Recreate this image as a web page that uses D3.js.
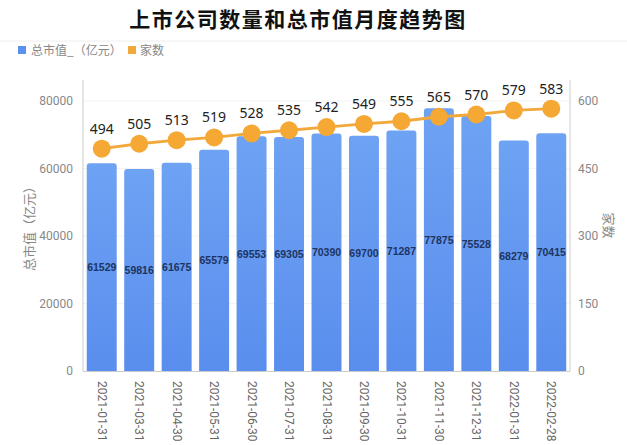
<!DOCTYPE html>
<html><head><meta charset="utf-8">
<script src="https://cdn.jsdelivr.net/npm/d3@7"></script>
<style>
html,body{margin:0;padding:0;background:#fff;}
svg{display:block;font-family:"Noto Sans CJK SC","Noto Sans",sans-serif;}
</style></head>
<body>
<svg id="c" width="627" height="445"></svg>
<script>
const categories = ["2021-01-31","2021-03-31","2021-04-30","2021-05-31","2021-06-30","2021-07-31","2021-08-31","2021-09-30","2021-10-31","2021-11-30","2021-12-31","2022-01-31","2022-02-28"];
const marketCap = [61529,59816,61675,65579,69553,69305,70390,69700,71287,77875,75528,68279,70415];
const companies = [494,505,513,519,528,535,542,549,555,565,570,579,583];
const leftTicks = [0,20000,40000,60000,80000];
const rightTicks = [0,150,300,450,600];
const title = "上市公司数量和总市值月度趋势图";
const legendLabels = ["总市值_（亿元）","家数"];
const leftTitle = "总市值（亿元）";
const rightTitle = "家数";

const svg = d3.select("#c");
const L = 83, R = 570, T = 80, B = 371;

const x = d3.scaleBand().domain(categories).range([L, R]).paddingInner(0.2).paddingOuter(0.1);
const yL = d3.scaleLinear().domain([0, 80000]).range([B, B - 270]);
const yR = d3.scaleLinear().domain([0, 600]).range([B, B - 270]);

// gradient
const defs = svg.append("defs");
const g = defs.append("linearGradient").attr("id","bg").attr("x1",0).attr("y1",0).attr("x2",0).attr("y2",1);
g.append("stop").attr("offset","0%").attr("stop-color","#6ea2f3");
g.append("stop").attr("offset","100%").attr("stop-color","#5a8eee");

// title
svg.append("text").attr("x", 298).attr("y", 27).attr("text-anchor","middle")
  .attr("font-size", 21).attr("font-weight", "bold").attr("fill","#111").attr("letter-spacing", 1.5)
  .text(title);
svg.append("line").attr("x1",0).attr("x2",627).attr("y1",41).attr("y2",41).attr("stroke","#eee");

// legend
const leg = svg.append("g").attr("font-size",12).attr("fill","#888");
leg.append("rect").attr("x",18).attr("y",46).attr("width",8).attr("height",8).attr("fill","#5b8ff0");
leg.append("text").attr("x",31).attr("y",54.5).attr("fill","#888").text(legendLabels[0]);
leg.append("rect").attr("x",128).attr("y",46).attr("width",8).attr("height",8).attr("fill","#f2a93b");
leg.append("text").attr("x",140).attr("y",54.5).attr("fill","#888").text(legendLabels[1]);

// grid
svg.append("g").selectAll("line").data(leftTicks.slice(1)).join("line")
  .attr("x1",L).attr("x2",R).attr("y1",d=>yL(d)).attr("y2",d=>yL(d)).attr("stroke","#f3f3f3");

// axes
const axL = svg.append("g").attr("transform",`translate(${L},0)`)
  .call(d3.axisLeft(yL).tickValues(leftTicks).tickSize(0).tickPadding(10).tickFormat(d3.format("d")));
const axR = svg.append("g").attr("transform",`translate(${R},0)`)
  .call(d3.axisRight(yR).tickValues(rightTicks).tickSize(0).tickPadding(8).tickFormat(d3.format("d")));
[axL, axR].forEach(a=>{
  a.select(".domain").remove();
  a.selectAll("text").attr("fill","#888").attr("font-size",12).attr("font-family","Roboto,'Noto Sans',sans-serif");
});
svg.append("line").attr("x1",L).attr("x2",L).attr("y1",T).attr("y2",B).attr("stroke","#ccc");
svg.append("line").attr("x1",R).attr("x2",R).attr("y1",T).attr("y2",B).attr("stroke","#ccc");

// bars
svg.append("g").selectAll("path").data(marketCap).join("path")
  .attr("fill","url(#bg)")
  .attr("d",(d,i)=>{
    const x0 = x(categories[i]), w = x.bandwidth(), y0 = yL(d), r = 3;
    return `M${x0},${B}V${y0+r}Q${x0},${y0} ${x0+r},${y0}H${x0+w-r}Q${x0+w},${y0} ${x0+w},${y0+r}V${B}Z`;
  });
svg.append("line").attr("x1",L).attr("x2",R).attr("y1",B+0.5).attr("y2",B+0.5).attr("stroke","#ccc");

// bar labels
svg.append("g").selectAll("text").data(marketCap).join("text")
  .attr("x",(d,i)=>x(categories[i]) + x.bandwidth()/2)
  .attr("y",d=>(yL(d)+B)/2 + 4)
  .attr("text-anchor","middle").attr("font-size",10.5).attr("font-weight","bold")
  .attr("fill","#1d3461").attr("font-family","'Liberation Sans',sans-serif")
  .text(d=>d);

// x labels
svg.append("g").selectAll("text").data(categories).join("text")
  .attr("transform",(d)=>`translate(${x(d)+x.bandwidth()/2 - 4},${B+10}) rotate(90)`)
  .attr("font-size",12).attr("fill","#666").attr("font-family","Roboto,'Noto Sans',sans-serif")
  .text(d=>d);

// line
const cx = (d,i)=>x(categories[i]) + x.bandwidth()/2;
svg.append("path").datum(companies)
  .attr("fill","none").attr("stroke","#f2a93b").attr("stroke-width",2.8)
  .attr("d", d3.line().x(cx).y(d=>yR(d)));
svg.append("g").selectAll("circle").data(companies).join("circle")
  .attr("cx",cx).attr("cy",d=>yR(d)).attr("r",9).attr("fill","#f5a834");
svg.append("g").selectAll("text").data(companies).join("text")
  .attr("x",cx).attr("y",d=>yR(d)-15).attr("text-anchor","middle")
  .attr("font-size",14).attr("fill","#222").attr("font-family","'Noto Sans',sans-serif")
  .text(d=>d);

// axis titles
svg.append("text").attr("transform",`translate(34,${(T+B)/2}) rotate(-90)`)
  .attr("text-anchor","middle").attr("font-size",13).attr("fill","#888").text(leftTitle);
svg.append("text").attr("transform",`translate(604,${(T+B)/2}) rotate(90)`)
  .attr("text-anchor","middle").attr("font-size",13).attr("fill","#888").text(rightTitle);
</script>
</body></html>
